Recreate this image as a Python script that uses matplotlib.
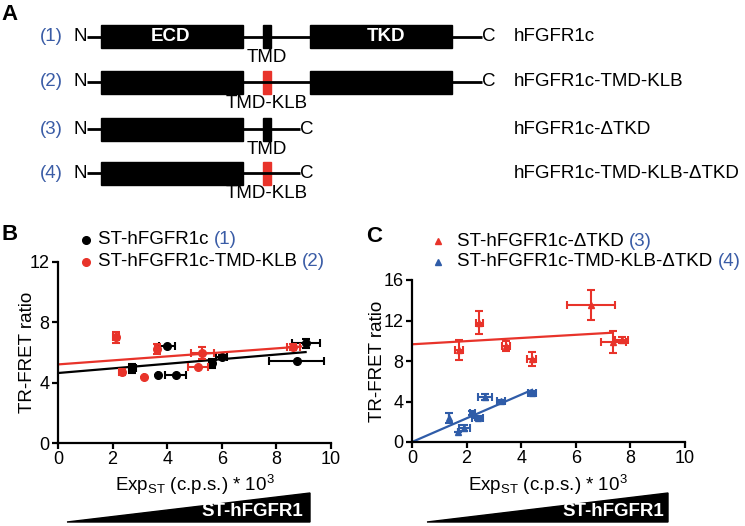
import matplotlib
matplotlib.use('Agg')
import matplotlib.pyplot as plt
from matplotlib.patches import Rectangle, Polygon

plt.rcParams['font.family'] = ['Liberation Sans', 'DejaVu Sans']
plt.rcParams['mathtext.default'] = 'regular'

RED = '#e8332a'
BLUE = '#2f5ca8'
NUMBLUE = '#3a5ca6'
FS = 13.5

# panel A: constructs
names = ['hFGFR1c', 'hFGFR1c-TMD-KLB', 'hFGFR1c-\u0394TKD', 'hFGFR1c-TMD-KLB-\u0394TKD']
numbers = ['(1)', '(2)', '(3)', '(4)']
tmd_labels = ['TMD', 'TMD-KLB', 'TMD', 'TMD-KLB']
tmd_red = [False, True, False, True]
has_tkd = [True, True, False, False]

# panel B: ST-hFGFR1c (1)
b1_x = [2.72, 3.67, 3.98, 4.31, 5.64, 6.0, 8.74, 9.08]
b1_y = [4.96, 4.48, 6.46, 4.48, 5.29, 5.69, 5.43, 6.6]
b1_xerr = [0.12, 0.0, 0.29, 0.38, 0.1, 0.2, 1.0, 0.52]
b1_yerr = [0.3, 0.0, 0.0, 0.0, 0.3, 0.15, 0.0, 0.3]
b1_fit = [4.64, 0.153, 9.07]   # intercept, slope, last x

# panel B: ST-hFGFR1c-TMD-KLB (2)
b2_x = [2.12, 2.33, 3.15, 3.64, 5.14, 5.29, 8.62]
b2_y = [7.0, 4.7, 4.37, 6.24, 5.03, 5.95, 6.39]
b2_xerr = [0.1, 0.08, 0.0, 0.08, 0.37, 0.42, 0.25]
b2_yerr = [0.35, 0.2, 0.0, 0.33, 0.0, 0.4, 0.2]
b2_fit = [5.21, 0.133, 8.9]

# panel C: ST-hFGFR1c-dTKD (3)
c3_x = [1.73, 2.47, 3.43, 4.38, 6.56, 7.38, 7.68]
c3_y = [9.09, 11.79, 9.48, 8.2, 13.53, 9.91, 10.07]
c3_xerr = [0.15, 0.12, 0.15, 0.15, 0.87, 0.45, 0.25]
c3_yerr = [1.0, 1.1, 0.5, 0.7, 1.45, 1.1, 0.3]
c3_fit = [9.65, 0.156, 7.35]

# panel C: ST-hFGFR1c-TMD-KLB-dTKD (4)
c4_x = [1.37, 1.70, 1.92, 2.21, 2.41, 2.67, 3.26, 4.41]
c4_y = [2.34, 1.02, 1.42, 2.83, 2.34, 4.48, 4.05, 4.81]
c4_xerr = [0.0, 0.0, 0.2, 0.1, 0.2, 0.25, 0.15, 0.15]
c4_yerr = [0.5, 0.0, 0.3, 0.2, 0.2, 0.3, 0.1, 0.2]
c4_fit = [0.0, 1.17, 4.4]

fig = plt.figure(figsize=(7.45, 5.26), dpi=100)

# background axes in pixel units for the diagram, labels and wedges
bg = fig.add_axes([0, 0, 1, 1])
bg.set_xlim(0, 745)
bg.set_ylim(526, 0)
bg.axis('off')

# ---- panel A ----
bg.text(9, 15, 'A', fontsize=16, fontweight='bold', ha='center', va='center')
rows = [36.5, 82, 129, 173]
bh = 23
for i, yc in enumerate(rows):
    bg.text(51, yc, numbers[i], color=NUMBLUE, fontsize=FS, ha='center', va='center')
    bg.text(80, yc, 'N', fontsize=FS, ha='center', va='center')
    end = 482 if has_tkd[i] else 300
    bg.plot([87, end], [yc, yc], color='black', lw=2, solid_capstyle='butt')
    bg.add_patch(Rectangle((101, yc - bh / 2), 142, bh, color='black'))
    if has_tkd[i]:
        bg.add_patch(Rectangle((310, yc - bh / 2), 142, bh, color='black'))
    bg.add_patch(Rectangle((263, yc - bh / 2), 8, bh,
                           color=RED if tmd_red[i] else 'black'))
    bg.text(end + 7, yc, 'C', fontsize=FS, ha='center', va='center')
    bg.text(267, yc + 21, tmd_labels[i], fontsize=FS, ha='center', va='center')
    bg.text(514, yc, names[i], fontsize=FS, ha='left', va='center')
    if i == 0:
        bg.text(170, yc, 'ECD', color='white', fontsize=FS, fontweight='bold',
                ha='center', va='center')
        bg.text(386, yc, 'TKD', color='white', fontsize=FS, fontweight='bold',
                ha='center', va='center')

fig.canvas.draw()
renderer = fig.canvas.get_renderer()


def two_color(x, y, first, second):
    t = bg.text(x, y, first, fontsize=FS, ha='left', va='center')
    w = t.get_window_extent(renderer).width
    bg.text(x + w, y, second, fontsize=FS, color=NUMBLUE, ha='left', va='center')


def style(ax, yticks):
    for s in ['top', 'right']:
        ax.spines[s].set_visible(False)
    for s in ['left', 'bottom']:
        ax.spines[s].set_linewidth(1.6)
    ax.tick_params(width=1.6, length=4, labelsize=13, pad=2)
    ax.set_xlim(0, 10)
    ax.set_xticks([0, 2, 4, 6, 8, 10])
    ax.set_yticks(yticks)
    ax.set_ylim(yticks[0], yticks[-1])
    ax.patch.set_alpha(0)


def series(ax, x, y, xerr, yerr, fit, color, marker, ms):
    ax.errorbar(x, y, xerr=xerr, yerr=yerr, fmt='none', ecolor=color,
                elinewidth=1.5, capsize=2.6, capthick=1.5, clip_on=False)
    ax.plot(x, y, ls='none', marker=marker, color=color, ms=ms, clip_on=False)
    ax.plot([0, fit[2]], [fit[0], fit[0] + fit[1] * fit[2]], color=color, lw=1.6)


# ---- panel B ----
axB = fig.add_axes([58 / 745, 83 / 526, 273 / 745, 181 / 526])
style(axB, [0, 4, 8, 12])
series(axB, b1_x, b1_y, b1_xerr, b1_yerr, b1_fit, 'black', 'o', 5.5)
series(axB, b2_x, b2_y, b2_xerr, b2_yerr, b2_fit, RED, 'o', 5.5)
bg.text(10, 235, 'B', fontsize=16, fontweight='bold', ha='center', va='center')
bg.plot([86], [240], 'o', color='black', ms=5.5)
bg.plot([86], [262], 'o', color=RED, ms=5.5)
two_color(98, 240, 'ST-hFGFR1c ', '(1)')
two_color(98, 262, 'ST-hFGFR1c-TMD-KLB ', '(2)')
bg.text(28, 352, 'TR-FRET ratio', fontsize=FS, rotation=90, ha='center', va='center')
bg.text(195, 485, r'Exp$_{ST}$ (c.p.s.) * 10$^{3}$', fontsize=FS,
        ha='center', va='center')
bg.add_patch(Polygon([(67, 522), (310, 493), (310, 522)], closed=True, color='black'))
bg.text(303, 511, 'ST-hFGFR1', color='white', fontsize=FS, fontweight='bold',
        ha='right', va='center')

# ---- panel C ----
axC = fig.add_axes([412 / 745, 84 / 526, 273 / 745, 162 / 526])
style(axC, [0, 4, 8, 12, 16])
series(axC, c3_x, c3_y, c3_xerr, c3_yerr, c3_fit, RED, '^', 5)
series(axC, c4_x, c4_y, c4_xerr, c4_yerr, c4_fit, BLUE, '^', 5)
bg.text(374, 236, 'C', fontsize=16, fontweight='bold', ha='center', va='center')
bg.plot([438], [241], '^', color=RED, ms=5)
bg.plot([438], [262], '^', color=BLUE, ms=5)
two_color(457, 241, 'ST-hFGFR1c-\u0394TKD ', '(3)')
two_color(457, 262, 'ST-hFGFR1c-TMD-KLB-\u0394TKD ', '(4)')
bg.text(377, 361, 'TR-FRET ratio', fontsize=FS, rotation=90, ha='center', va='center')
bg.text(548, 485, r'Exp$_{ST}$ (c.p.s.) * 10$^{3}$', fontsize=FS,
        ha='center', va='center')
bg.add_patch(Polygon([(427, 522), (668, 493), (668, 522)], closed=True, color='black'))
bg.text(664, 511, 'ST-hFGFR1', color='white', fontsize=FS, fontweight='bold',
        ha='right', va='center')

fig.savefig('out.png', dpi=100)
